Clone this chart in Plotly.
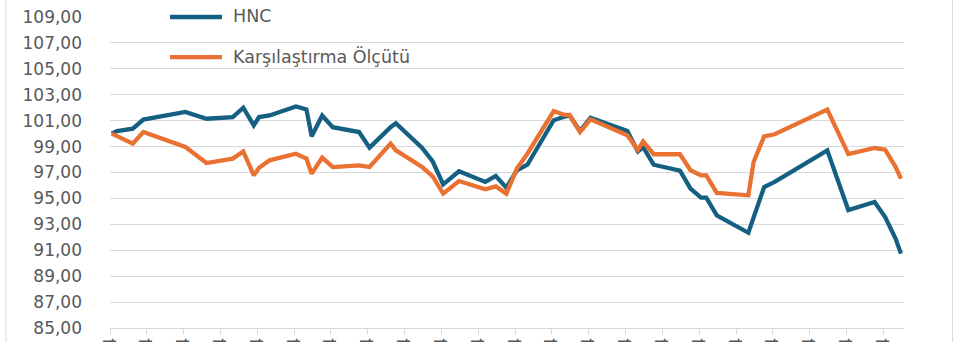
import plotly.graph_objects as go

# Observation dates (non-trading days are simply absent)
dates = [
    "2024-07-01", "2024-07-02", "2024-07-05", "2024-07-07", "2024-07-15",
    "2024-07-19", "2024-07-24", "2024-07-26", "2024-07-28", "2024-07-29",
    "2024-07-31", "2024-08-05", "2024-08-07", "2024-08-08", "2024-08-10",
    "2024-08-12", "2024-08-17", "2024-08-19", "2024-08-23", "2024-08-24",
    "2024-08-29", "2024-08-31", "2024-09-02", "2024-09-05", "2024-09-10",
    "2024-09-12", "2024-09-14", "2024-09-16", "2024-09-18", "2024-09-23",
    "2024-09-25", "2024-09-26", "2024-09-28", "2024-09-30", "2024-10-07",
    "2024-10-09", "2024-10-10", "2024-10-12", "2024-10-17", "2024-10-19",
    "2024-10-21", "2024-10-22", "2024-10-24", "2024-10-30", "2024-10-31",
    "2024-11-02", "2024-11-04", "2024-11-14", "2024-11-16", "2024-11-18",
    "2024-11-23", "2024-11-25", "2024-11-27", "2024-11-28",
]

# Indexed values (start = 100)
hnc = [
    100.00, 100.20, 100.38, 101.08, 101.67,
    101.15, 101.28, 102.00, 100.64, 101.28,
    101.40, 102.10, 101.87, 99.80, 101.40,
    100.50, 100.12, 98.92, 100.50, 100.80,
    98.90, 97.85, 96.09, 97.09, 96.27,
    96.73, 95.83, 97.17, 97.60, 101.03,
    101.30, 101.41, 100.20, 101.23, 100.20,
    98.62, 98.95, 97.60, 97.14, 95.75,
    95.06, 95.06, 93.69, 92.35, None,
    95.88, 96.27, 98.71, 96.30, 94.10,
    94.72, 93.56, 91.89, 90.74,
]

benchmark = [
    100.00, None, 99.22, 100.12, 98.97,
    97.73, 98.07, 98.63, 96.78, 97.37,
    97.94, 98.45, 98.07, 96.91, 98.15,
    97.42, 97.55, 97.42, 99.23, 98.71,
    97.42, 96.70, 95.37, 96.34, 95.70,
    95.93, 95.37, 97.30, 98.45, 101.74,
    101.45, 101.45, 100.12, 101.10, 99.87,
    98.74, 99.40, 98.41, 98.41, 97.17,
    96.78, 96.78, 95.42, 95.24, 97.81,
    99.79, 99.95, 101.86, None, 98.42,
    98.89, 98.76, 97.42, 96.52,
]

series_names = ["HNC", "Karşılaştırma Ölçütü"]
series_colors = ["#156082", "#E97132"]

y_min, y_max, y_step = 85, 109, 2

FONT = "DejaVu Sans"
TEXT_COLOR = "#595959"
GRID_COLOR = "#D9D9D9"

fig = go.Figure()
for name, values, color in zip(series_names, [hnc, benchmark], series_colors):
    fig.add_trace(go.Scatter(
        x=dates, y=values, name=name, mode="lines",
        line=dict(color=color, width=4.3),
        connectgaps=True, showlegend=False,
    ))

# Legend drawn as line samples with labels inside the plot area
legend_rows = [1.0, 0.871]
for name, color, ly in zip(series_names, series_colors, legend_rows):
    fig.add_shape(type="line", xref="paper", yref="paper",
                  x0=0.0756, x1=0.141, y0=ly, y1=ly,
                  line=dict(color=color, width=4.3))
    fig.add_annotation(xref="paper", yref="paper", x=0.1524, y=ly + 0.003,
                       text=name, showarrow=False, xanchor="left", yanchor="middle",
                       font=dict(family=FONT, size=17.5, color=TEXT_COLOR))

# Chart-area border
fig.add_shape(type="rect", xref="paper", yref="paper",
              x0=-0.131, x1=1.0611, y0=-0.5, y1=1.5,
              line=dict(color=GRID_COLOR, width=1), layer="below")

fig.update_layout(
    width=958, height=342,
    margin=dict(l=110, r=54, t=17, b=14),
    paper_bgcolor="white", plot_bgcolor="white",
    separators=",.",
    font=dict(family=FONT, size=17, color=TEXT_COLOR),
)

fig.update_xaxes(
    type="date",
    range=["2024-06-30 16:00", "2024-11-28 14:00"],
    tick0="2024-06-30 16:00", dtick=7 * 86400000,
    tickformat="%d.%m.%Y", tickangle=-90,
    showgrid=False, showline=True, linecolor=GRID_COLOR, linewidth=1,
    ticks="outside", ticklen=5, tickcolor=GRID_COLOR, tickwidth=1,
    ticklabelstandoff=-3,
    tickfont=dict(family=FONT, size=17, color=TEXT_COLOR),
    zeroline=False, automargin=False,
)

fig.update_yaxes(
    range=[y_min, y_max], tick0=y_min, dtick=y_step,
    tickformat=".2f",
    showgrid=True, gridcolor=GRID_COLOR, gridwidth=1.3,
    showline=False, zeroline=False, ticks="",
    ticklabelstandoff=27,
    tickfont=dict(family=FONT, size=17, color=TEXT_COLOR),
    automargin=False,
)

fig.write_html("out.html")
